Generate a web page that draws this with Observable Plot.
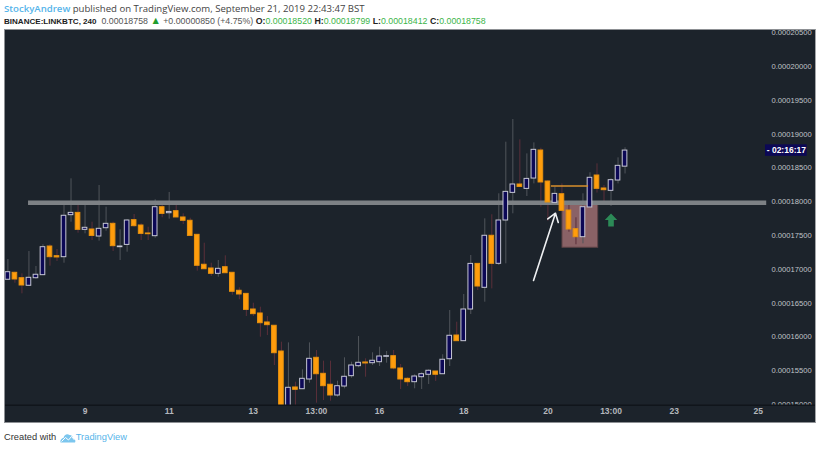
<!DOCTYPE html>
<html>
<head>
<meta charset="utf-8">
<script src="https://cdn.jsdelivr.net/npm/d3@7"></script>
<script src="https://cdn.jsdelivr.net/npm/@observablehq/plot@0.6"></script>
<style>
html,body{margin:0;padding:0;background:#fff;width:820px;height:449px;overflow:hidden;font-family:"Open Sans",sans-serif;}
#l1,#l2,#foot{position:absolute;white-space:nowrap;}
#l1{left:4px;top:2px;font-size:9.6px;line-height:13px;color:#444;}
#l2{left:4px;top:14px;font-family:"Liberation Sans",sans-serif;font-size:8.8px;line-height:13px;color:#555;}
#l1 b{color:#55b4ea;font-weight:600;}
#l2 b{color:#222;font-weight:700;}
#l2 b.s{font-size:8.05px;}
#l2 i{color:#3cb54a;font-style:normal;}
#l2 u{color:#1f9d2e;text-decoration:none;font-size:10.5px;}
#foot{left:4px;top:430px;font-family:"Liberation Sans",sans-serif;font-size:9.3px;line-height:14px;color:#333;}
#foot span{color:#55b4ea;}
#foot svg{vertical-align:-3px;margin:0 0 0 1px;}
#frame{position:absolute;left:4px;top:29px;width:812px;height:394px;box-sizing:border-box;border:1px solid #8d9094;border-right-color:#a4a6a9;pointer-events:none;}
#chart svg{position:absolute;left:4px;top:29px;}
</style>
</head>
<body>
<div id="l1"><b>StockyAndrew</b> published on TradingView.com, September 21, 2019 22:43:47 BST</div>
<div id="l2"><b class="s">BINANCE:LINKBTC, 240</b>&nbsp; 0.00018758 <u>▲</u> +0.00000850 (+4.75%) <b>O:</b><i>0.00018520</i> <b>H:</b><i>0.00018799</i> <b>L:</b><i>0.00018412</i> <b>C:</b><i>0.00018758</i></div>
<div id="chart"></div>
<div id="frame"></div>
<div id="foot">Created with <svg width="16" height="11" viewBox="0 0 16 11"><path d="M0.5 10.5 C0 7.5 2 6 3.5 6 C4 3 7 1 9.5 3 C12 3 13 5 13 6.5 C15 6.5 16 9 15 10.5 Z" fill="#7cc6ee"/><path d="M1.5 9.5 L5.5 5.5 L8.5 8 L11.5 4.5 L14.5 8" fill="none" stroke="#fff" stroke-width="1"/></svg><span>TradingView</span></div>
<script>
// Prices in units of 1e-8 BTC, one candle per 4 hours
const opens = [16846,16949,16869,16757,16869,16914,17338,17195,17180,17802,17836,17585,17590,17486,17609,17674,17328,17362,17728,17649,17531,17491,17920,17831,17861,17768,17719,17511,17068,17013,16934,17032,16949,16683,16637,16406,16347,16214,16165,15784,14950,15252,15226,15370,15691,15454,15292,15133,15266,15419,15567,15622,15611,15626,15706,15715,15533,15380,15330,15404,15440,15488,15448,15670,16021,15937,16406,17081,16727,17497,17082,17723,18132,18256,18191,18344,18759,18300,17984,18112,17871,17595,17476,17916,18389,18197,18162,18315,18520];
const closes = [16958,16850,16761,16875,16920,17328,17180,17176,17793,17836,17585,17615,17495,17600,17674,17343,17338,17723,17639,17525,17520,17920,17821,17850,17768,17719,17495,17053,17002,16934,17008,16943,16668,16628,16400,16337,16203,16174,15759,14900,15247,15217,15380,15676,15448,15271,15133,15271,15410,15577,15617,15607,15647,15710,15715,15533,15370,15330,15414,15448,15499,15440,15662,16017,15937,16406,17081,16746,17497,17082,17723,18147,18256,18220,18339,18769,18286,17990,18117,17866,17590,17476,17920,18355,18192,18172,18320,18532,18758];
const highs = [17146,16958,16934,17264,17042,17364,17364,17294,17975,18340,17990,17975,17698,18241,17920,17698,17585,17734,17812,17674,17624,18030,17985,18138,17945,17822,17757,17511,17387,17091,17131,17200,16949,16727,16637,16499,16440,16302,16165,15922,15912,15330,15513,15912,15799,15641,15641,15345,15691,15626,16006,15676,15765,15848,15784,15799,15592,15395,15440,15469,15513,15488,15736,16391,16218,16628,17205,17081,17748,17808,18118,18882,19218,18917,18709,18872,18793,18315,18216,18266,18009,17763,18118,18429,18562,18241,18340,18650,18799];
const lows = [16835,16795,16638,16746,16854,16914,17047,17116,17091,17698,17535,17526,17427,17417,17565,17264,17131,17254,17624,17427,17427,17461,17763,17743,17768,17664,17495,16973,17002,16894,16884,16943,16618,16550,16302,16302,15996,16021,15577,14800,14850,14950,15226,15315,15019,15059,15049,15108,15232,15389,15543,15404,15577,15562,15611,15513,15222,15266,15232,15222,15296,15340,15448,15562,15937,15937,16332,16687,16514,16711,17057,17082,17822,18220,18078,18265,17920,17713,17984,17866,17550,17364,17378,17916,18129,17980,17930,18265,18412];

const yTicks = [15000,15500,16000,16500,17000,17500,18000,18500,19000,19500,20000,20500];
const xTickPositions = [11,23,35,44,53,65,77,86,95,107];
const xTickLabels = ["9","11","13","13:00","16","18","20","13:00","23","25"];

const candles = opens.map((o,i)=>({i,o,c:closes[i],h:highs[i],l:lows[i]}));
const up = candles.filter(d=>d.c>=d.o);
const down = candles.filter(d=>d.c<d.o);

// Drawn annotations, in candle index and price
const levelLine = [{x1:2.94,x2:108.2,y:17985}];
const orangeLine = [{x1:77.5,x2:82.8,y:18235}];
const zone = [{x1:79.08,x2:84.17,y1:17320,y2:17960}];
const whiteArrow = [{x1:74.95,y1:16835,x2:78.08,y2:17831}];
const greenArrow = [{x:86,y:17731}];
const lastBox = [{x1:108.03,x2:113.97,y1:18673,y2:18843}];
const lastLabel = [{x:108.2,y:18758,t:"- 02:16:17"}];

const blockUp = {draw(c,s){const k=Math.sqrt(s)/10.6;
  c.moveTo(0,-6.5*k);c.lineTo(6.2*k,0);c.lineTo(2.8*k,0);c.lineTo(2.8*k,6.5*k);
  c.lineTo(-2.8*k,6.5*k);c.lineTo(-2.8*k,0);c.lineTo(-6.2*k,0);c.closePath();}};

const fmt = d=>(d/1e8).toFixed(8);
const font = '"Liberation Sans",sans-serif';
const hw = 0.33;

const plot = Plot.plot({
  width:812,height:394,
  marginTop:0,marginRight:0,marginBottom:18,marginLeft:0,
  style:{background:"#1c232b",fontFamily:font,maxWidth:"none"},
  x:{domain:[-0.485,115.3],axis:null},
  y:{domain:[14985,20550],axis:null},
  marks:[
    Plot.rect(zone,{x1:"x1",x2:"x2",y1:"y1",y2:"y2",fill:"#8a6266",stroke:"#5f4347",strokeWidth:1}),
    Plot.ruleX(down,{x:"i",y1:"l",y2:"h",stroke:"#5b2f3a",strokeWidth:1,clip:"frame"}),
    Plot.ruleX(up,{x:"i",y1:"l",y2:"h",stroke:"#50555b",strokeWidth:1,clip:"frame"}),
    Plot.ruleY(levelLine,{x1:"x1",x2:"x2",y:"y",stroke:"#7d8185",strokeWidth:4.5}),
    Plot.rect(down,{x1:d=>d.i-hw,x2:d=>d.i+hw,y1:"o",y2:"c",fill:"#ff9d0c",stroke:"#e8920f",strokeWidth:1,clip:"frame"}),
    Plot.rect(up,{x1:d=>d.i-hw,x2:d=>d.i+hw,y1:"o",y2:"c",fill:"#0c0856",stroke:"#c6c7d4",strokeWidth:1,clip:"frame"}),
    Plot.ruleY(orangeLine,{x1:"x1",x2:"x2",y:"y",stroke:"#d8902c",strokeWidth:1.5}),
    Plot.arrow(whiteArrow,{x1:"x1",y1:"y1",x2:"x2",y2:"y2",stroke:"#eef0f2",strokeWidth:1.6,headLength:9,headAngle:70,insetEnd:0,insetStart:0}),
    Plot.dot(greenArrow,{x:"x",y:"y",r:6,symbol:blockUp,fill:"#2c8a57",stroke:"none"}),
    Plot.axisY(yTicks,{anchor:"right",tickSize:0,tickPadding:-45,tickFormat:fmt,label:null,fill:"#c0c3c8",fontSize:7.6,clip:"frame"}),
    Plot.rect(lastBox,{x1:"x1",x2:"x2",y1:"y1",y2:"y2",fill:"#0c0856"}),
    Plot.text(lastLabel,{x:"x",y:"y",text:"t",textAnchor:"start",fill:"#fff",fontSize:8.5,fontWeight:700}),
    Plot.ruleY([14990],{stroke:"#10151b",strokeWidth:1.5}),
    Plot.axisX(xTickPositions,{anchor:"bottom",tickSize:0,tickPadding:2,tickFormat:(d,i)=>xTickLabels[i],label:null,fill:"#b4b7bc",fontSize:8.5,fontWeight:700})
  ]
});
document.getElementById("chart").appendChild(plot);
</script>
</body>
</html>
